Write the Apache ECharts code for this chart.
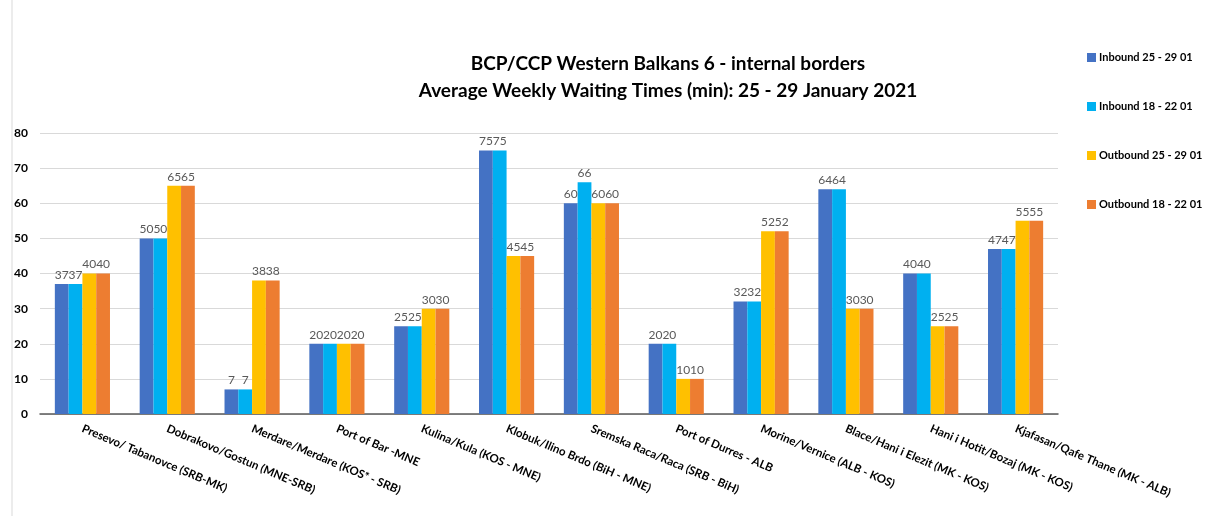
<!DOCTYPE html>
<html><head><meta charset="utf-8">
<script src="https://cdn.jsdelivr.net/npm/echarts@6/dist/echarts.min.js"></script>
<style>html,body{margin:0;padding:0;background:#fff}#c{width:1205px;height:516px}</style>
</head><body><div id="c"></div>
<script>
const categories = ["Presevo/ Tabanovce (SRB-MK)","Dobrakovo/Gostun (MNE-SRB)","Merdare/Merdare (KOS* - SRB)","Port of Bar -MNE","Kulina/Kula (KOS - MNE)","Klobuk/Ilino Brdo (BiH - MNE)","Sremska Raca/Raca (SRB - BiH)","Port of Durres - ALB","Morine/Vernice (ALB - KOS)","Blace/Hani i Elezit (MK - KOS)","Hani i Hotit/Bozaj (MK - KOS)","Kjafasan/Qafe Thane (MK - ALB)"];
const inbound2529 = [37,50,7,20,25,75,60,20,32,64,40,47];
const inbound1822 = [37,50,7,20,25,75,66,20,32,64,40,47];
const outbound2529 = [40,65,38,20,30,45,60,10,52,30,25,55];
const outbound1822 = [40,65,38,20,30,45,60,10,52,30,25,55];
const seriesNames = ["Inbound 25 - 29 01","Inbound 18 - 22 01","Outbound 25 - 29 01","Outbound 18 - 22 01"];
const colors = ["#4472C4","#00B0F0","#FFC000","#ED7D31"];
const values = [inbound2529, inbound1822, outbound2529, outbound1822];
const FONT = "Lato";
const chart = echarts.init(document.getElementById('c'));
chart.setOption({
  animation:false,
  textStyle:{fontFamily:FONT},
  title:{
    text:"BCP/CCP Western Balkans 6 - internal borders\nAverage Weekly Waiting Times (min): 25 - 29 January 2021",
    left:663, top:45, textAlign:'center',
    textStyle:{fontFamily:FONT,fontSize:19,fontWeight:'bold',color:'#000',lineHeight:27}
  },
  legend:{
    orient:'vertical', left:1082, top:47, itemGap:38, itemWidth:9, itemHeight:9, icon:'rect',
    textStyle:{fontFamily:FONT,fontSize:11,fontWeight:'bold',color:'#000',padding:[0,0,0,-2]},
    data:seriesNames
  },
  graphic:[{type:'line',shape:{x1:12,y1:0,x2:12,y2:516},style:{stroke:'#d9d9d9',lineWidth:1}}],
  grid:{left:40,right:147,top:133,bottom:102},
  xAxis:{
    type:'category', data:categories,
    axisLine:{lineStyle:{color:'#595959',width:1.5}},
    axisTick:{show:false},
    axisLabel:{interval:0,rotate:-23,margin:14,fontFamily:FONT,fontSize:11.5,fontWeight:'bold',color:'#000'}
  },
  yAxis:{
    type:'value', min:0, max:80, interval:10,
    axisLine:{show:false}, axisTick:{show:false},
    splitLine:{lineStyle:{color:'#d9d9d9'}},
    axisLabel:{fontFamily:FONT,fontSize:12,fontWeight:'bold',color:'#000',margin:12}
  },
  series: values.map((v,i)=>({
    name:seriesNames[i], type:'bar', data:v, barGap:'0%', barCategoryGap:'35%',
    itemStyle:{color:colors[i]},
    label:{show:true,position:'top',distance:3,fontFamily:FONT,fontSize:12,color:'#595959'}
  }))
});
</script></body></html>
